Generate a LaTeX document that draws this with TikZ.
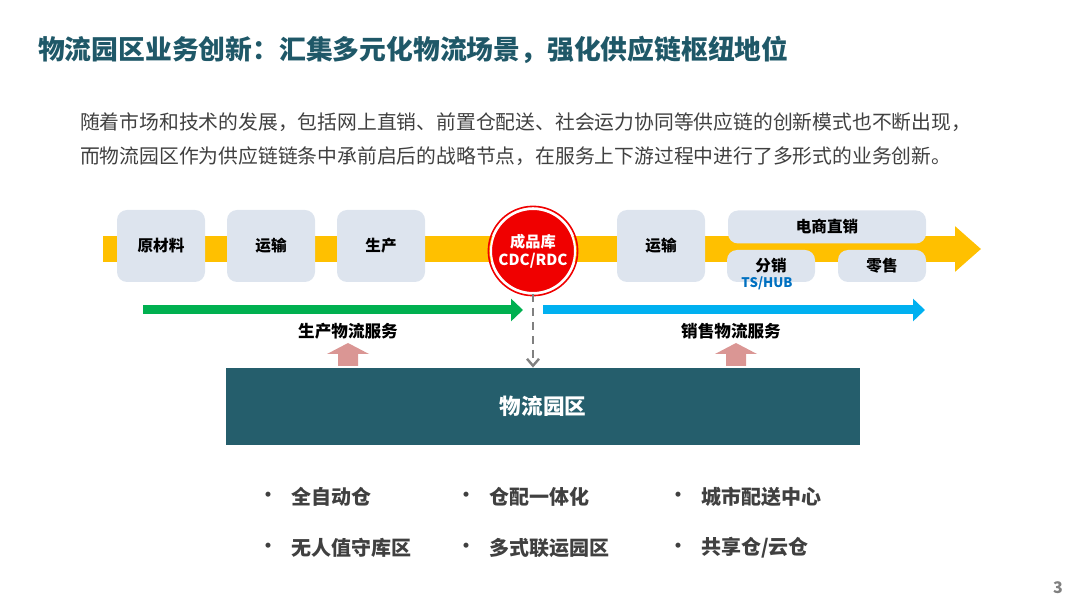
\documentclass[tikz,border=0pt]{standalone}
\usepackage{fontspec}
\setmainfont{Noto Sans CJK SC}
\usetikzlibrary{positioning, arrows.meta, calc}
\definecolor{teal}{HTML}{1F5868}
\definecolor{park}{HTML}{255E6C}
\definecolor{txt}{HTML}{404040}
\definecolor{band}{HTML}{FFC000}
\definecolor{boxbg}{HTML}{DDE4EE}
\definecolor{prod}{HTML}{00B050}
\definecolor{sale}{HTML}{00B0F0}
\definecolor{hub}{HTML}{0070C0}
\definecolor{pinkup}{HTML}{DA9694}
\definecolor{store}{HTML}{F00000}

\tikzset{
  stage/.style={fill=boxbg, rounded corners=5pt, inner sep=0pt, font=\fontsize{7.8}{9}\selectfont\bfseries},
  service/.style={font=\fontsize{8.3}{10}\selectfont\bfseries, text=black},
  item/.style={anchor=west, font=\fontsize{10}{12}\selectfont\bfseries, text=txt},
  dot/.style={font=\fontsize{9}{10}\selectfont\bfseries, text=txt},
}

\begin{document}
\begin{tikzpicture}[x=0.5pt, y=-0.5pt]
  \useasboundingbox (0,0) rectangle (1080,608);
  % heading and intro
  \node[anchor=west, font=\fontsize{13.4}{16}\selectfont\bfseries, text=teal] (title) at (31,50)
    {物流园区业务创新：汇集多元化物流场景，强化供应链枢纽地位};
  \node[anchor=west, font=\fontsize{9.9}{17}\selectfont, text=txt, align=left] (intro) at (73,139)
    {随着市场和技术的发展，包括网上直销、前置仓配送、社会运力协同等供应链的创新模式也不断出现，\\
     而物流园区作为供应链链条中承前启后的战略节点，在服务上下游过程中进行了多形式的业务创新。};

  % supply chain band
  \coordinate (bandL) at (103,249);
  \coordinate (bandR) at (981,249);
  \draw[band, line width=13pt, -{Triangle[length=13pt, width=22pt]}] (bandL) -- (bandR);

  \node[stage, minimum width=44pt, minimum height=36pt] (raw) at (161,246) {原材料};
  \node[stage, minimum width=44pt, minimum height=36pt] (move1) at (271,246) {运输};
  \node[stage, minimum width=44pt, minimum height=36pt] (make) at (381,246) {生产};
  \node[stage, minimum width=44pt, minimum height=36pt] (move2) at (661,246) {运输};
  \node[stage, minimum width=99pt, minimum height=16.5pt] (ecom) at (827,227) {电商直销};
  \node[stage, minimum width=44pt, minimum height=16pt] (dist) at (771,266) {分销};
  \node[stage, minimum width=44pt, minimum height=16pt] (retail) at (882,266) {零售};
  \node[font=\fontsize{6.6}{8}\selectfont\bfseries, text=hub] (hubtag) at (767,283) {TS/HUB};

  % finished goods store
  \node[circle, fill=store, draw=white, line width=1pt, minimum size=42pt, inner sep=0pt,
        text=white, align=center, font=\fontsize{7.6}{9}\selectfont\bfseries] (cdc) at (533,251)
    {成品库\\CDC/RDC};
  \draw[store, line width=0.8pt] (cdc.center) circle (22.3pt);

  % service arrows
  \coordinate (pS) at (143,310);
  \coordinate (pE) at (523,310);
  \coordinate (sS) at (543,310);
  \coordinate (sE) at (925,310);
  \draw[prod, line width=4.5pt, -{Triangle[length=6pt, width=11pt]}] (pS) -- (pE);
  \draw[sale, line width=4.5pt, -{Triangle[length=6pt, width=11pt]}] (sS) -- (sE);
  \node[service] (prodlbl) at (348,331) {生产物流服务};
  \node[service] (salelbl) at (731,331) {销售物流服务};

  % logistics park
  \node[fill=park, minimum width=317pt, minimum height=38.5pt, inner sep=0pt,
        text=white, font=\fontsize{10.8}{12}\selectfont\bfseries] (lpark) at (543,406.5) {物流园区};
  \draw[gray, line width=1.2pt, dashed, dash pattern=on 4pt off 3pt,
        -{Straight Barb[length=3.5pt, width=6pt]}] (cdc.south) -- (cdc.south |- lpark.north) coordinate (dropEnd);

  % pink push arrows
  \foreach \px [count=\k] in {348,736} {
    \fill[pinkup] (\px-10,366) -- (\px-10,354) -- (\px-21,354) -- (\px,343)
      -- (\px+21,354) -- (\px+10,354) -- (\px+10,366) -- cycle;
  }

  % park formats
  \foreach \bx/\tx/\ty/\lbl [count=\n] in {268/284/497/全自动仓, 466/482/497/仓配一体化, 678/694/497/城市配送中心,
      268/284/548/无人值守库区, 466/482/548/多式联运园区, 678/694/548/{共享仓/云仓}} {
    \node[dot] (dot\n) at (\bx,\ty) {·};
    \node[item] (fmt\n) at (\tx,\ty) {\lbl};
  }

  \node[font=\fontsize{8}{9}\selectfont\bfseries, text=gray] (pageno) at (1058,588) {3};
\end{tikzpicture}
\end{document}
